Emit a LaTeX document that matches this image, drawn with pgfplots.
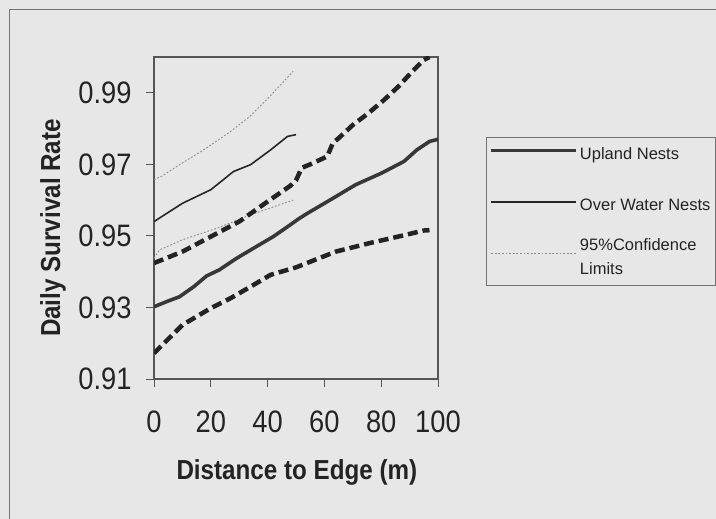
\documentclass[border=0pt]{standalone}
\usepackage{fontspec}
\setmainfont{Liberation Sans}[FakeStretch=0.88]
\newfontfamily\legfont{Liberation Sans}
\usepackage{pgfplots}
\pgfplotsset{compat=1.18}
\definecolor{bg}{RGB}{231,231,231}
\definecolor{ink}{RGB}{35,35,35}
\definecolor{axc}{RGB}{85,85,85}
\pgfplotstableread{
x y
0 0.9302
5 0.9318
9 0.9330
14 0.9358
18.5 0.9388
23 0.9405
29 0.9437
36 0.9470
42 0.9498
48 0.9531
51 0.9548
54 0.9563
63 0.9605
71 0.9643
80 0.9675
88 0.9708
92.5 0.9740
97 0.9764
100 0.9770
}\upmean
\pgfplotstableread{
x y
0 0.9172
10 0.9251
20 0.9298
27 0.9326
34 0.9358
41 0.9391
50 0.9412
64 0.9456
76 0.9480
86 0.9498
95 0.9515
97 0.9516
}\uplow
\pgfplotstableread{
x y
0 0.9424
10 0.9456
20 0.9498
30 0.9540
40 0.9596
48 0.9640
50 0.9655
52 0.9690
55 0.9700
61 0.9722
63 0.9760
65 0.9773
70 0.9810
75.5 0.9843
81 0.9880
86 0.9917
91 0.9960
95 0.9992
97 1.0000
}\uphigh
\pgfplotstableread{
x y
0 0.9540
10 0.9591
20 0.9629
28 0.9680
34 0.9699
41 0.9740
47 0.9778
50 0.9783
}\owmean
\pgfplotstableread{
x y
0 0.9657
3 0.9668
8 0.9694
17.4 0.9740
26.8 0.9791
33.8 0.9834
40.8 0.9890
49 0.9960
}\owhigh
\pgfplotstableread{
x y
0 0.9438
2 0.9461
10 0.9489
22 0.9521
34 0.9559
49 0.9600
}\owlow
\pgfplotsset{
  firstlegimg/.style={legend image code/.code={\draw[##1] (0bp,0.35em) -- (85bp,0.35em); \path[draw=none,fill=none] (0bp,-21bp) -- (1bp,-21bp);}},
}
\begin{document}
\begin{tikzpicture}
\clip (0,0) rectangle (716bp,519bp);
\fill[bg] (0,0) rectangle (716bp,519bp);
\draw[black!55, line width=1bp] (9bp,-20bp) rectangle (740bp,509bp);
\begin{axis}[
  at={(154bp,140bp)}, anchor=south west,
  scale only axis, width=284bp, height=322bp,
  xmin=0, xmax=100, ymin=0.91, ymax=1.0,
  xtick={0,20,40,60,80,100},
  xticklabels={0,20,40,60,80,100},
  ytick={0.91,0.93,0.95,0.97,0.99},
  yticklabels={0.91,0.93,0.95,0.97,0.99},
  /pgf/number format/assume math mode=true,
  tick pos=left, tick align=outside,
  major tick length=8bp,
  tick style={axc, line width=1bp},
  axis line style={axc, line width=1.4bp},
  tick label style={font=\fontsize{31bp}{34bp}\selectfont, text=ink},
  xticklabel style={yshift=-20.5bp},
  yticklabel style={xshift=-11bp},
  xlabel={Distance to Edge (m)},
  ylabel={Daily Survival Rate},
  label style={font=\bfseries\fontsize{27.5bp}{32bp}\selectfont, text=ink},
  xlabel style={at={(axis description cs:0.503,-0.289)}, anchor=center},
  ylabel style={at={(axis description cs:-0.356,0.469)}, anchor=center, rotate=0},
  legend style={at={(rel axis cs:1.169,0.7516)}, anchor=north west,
    draw=black!55, line width=0.8bp, fill=none,
    font=\legfont\fontsize{16.5bp}{24bp}\selectfont, text=ink,
    inner xsep=3bp, inner ysep=8bp, row sep=22bp,
    cells={anchor=west, align=left}},
  legend cell align=left,
  legend image code/.code={\draw[#1] (0bp,0.35em) -- (85bp,0.35em);},
]
\addplot[color=black!78, line width=3.6bp, firstlegimg] table {\upmean};
\addlegendentry{Upland Nests}
\addplot[color=black!85, line width=1.6bp] table {\owmean};
\addlegendentry{Over Water Nests}
\addplot[color=black!45, line width=0.9bp, dash pattern=on 1.8bp off 1.8bp] table {\owhigh};
\addlegendentry{95\%Confidence\\Limits}
\addplot[color=black!45, line width=0.9bp, dash pattern=on 1.8bp off 1.8bp, forget plot] table {\owlow};
\addplot[color=ink, line width=4.5bp, dash pattern=on 10bp off 5bp, forget plot] table {\uphigh};
\addplot[color=ink, line width=4.5bp, dash pattern=on 10bp off 5bp, forget plot] table {\uplow};
\end{axis}
\end{tikzpicture}
\end{document}
